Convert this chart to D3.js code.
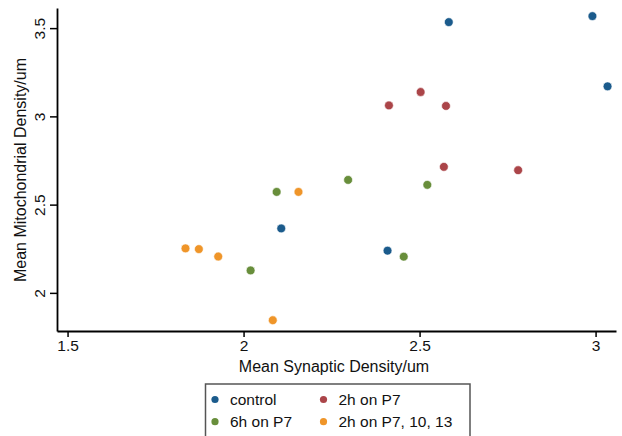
<!DOCTYPE html>
<html>
<head>
<meta charset="utf-8">
<script src="https://cdn.jsdelivr.net/npm/d3@7/dist/d3.min.js"></script>
<style>
  body { margin: 0; background: #fff; }
  svg { display: block; font-family: "Liberation Sans", Arial, Helvetica, sans-serif; }
</style>
</head>
<body>
<svg id="chart" width="622" height="436"></svg>
<script>
const groups = ["control", "2h on P7", "6h on P7", "2h on P7, 10, 13"];
const colors = ["#1b5b8c", "#ab4549", "#688e3b", "#ef9529"];

const controlX = [2.583, 2.991, 3.034, 2.107, 2.409];
const controlY = [3.534, 3.568, 3.170, 2.365, 2.239];
const h2X = [2.503, 2.413, 2.575, 2.569, 2.780];
const h2Y = [3.138, 3.062, 3.059, 2.714, 2.695];
const h6X = [2.094, 2.297, 2.522, 2.020, 2.455];
const h6Y = [2.572, 2.640, 2.612, 2.127, 2.205];
const multiX = [2.156, 1.835, 1.873, 1.928, 2.083];
const multiY = [2.572, 2.252, 2.248, 2.206, 1.845];

const xTicks = [1.5, 2, 2.5, 3];
const yTicks = [2, 2.5, 3, 3.5];
const xTitle = "Mean Synaptic Density/um";
const yTitle = "Mean Mitochondrial Density/um";

const seriesX = [controlX, h2X, h6X, multiX];
const seriesY = [controlY, h2Y, h6Y, multiY];
const points = [];
seriesX.forEach((xs, g) => xs.forEach((x, i) => points.push({g, x, y: seriesY[g][i]})));

const svg = d3.select("#chart");
const x = d3.scaleLinear().domain([1.47, 3.058]).range([57, 616]);
const y = d3.scaleLinear().domain([1.784, 3.614]).range([331, 8]);

// X axis
const gx = svg.append("g").attr("transform", "translate(0,331)")
  .call(d3.axisBottom(x).tickValues(xTicks).tickFormat(d3.format("")).tickSize(6).tickSizeOuter(0).tickPadding(3));
gx.select(".domain").attr("stroke", "#000").attr("stroke-width", 1.8);
gx.selectAll(".tick line").attr("stroke", "#000").attr("stroke-width", 1.5);
gx.selectAll(".tick text").attr("fill", "#111").style("font-size", "15.5px");

// Y axis
const gy = svg.append("g").attr("transform", "translate(57,0)")
  .call(d3.axisLeft(y).tickValues(yTicks).tickFormat(d3.format("")).tickSize(7).tickSizeOuter(0));
gy.select(".domain").attr("stroke", "#000").attr("stroke-width", 1.8);
gy.selectAll(".tick line").attr("stroke", "#000").attr("stroke-width", 1.5);
gy.selectAll(".tick text")
  .attr("fill", "#111").style("font-size", "15.5px")
  .attr("x", null).attr("dy", null)
  .attr("transform", "rotate(-90)")
  .attr("text-anchor", "middle")
  .attr("y", -12);

// Titles
svg.append("text").attr("x", 334).attr("y", 372).attr("text-anchor", "middle")
  .attr("fill", "#111").style("font-size", "16px").text(xTitle);
svg.append("text").attr("transform", "translate(26,170) rotate(-90)").attr("text-anchor", "middle")
  .attr("fill", "#111").style("font-size", "16px").text(yTitle);

// Points
svg.append("g").selectAll("circle").data(points).join("circle")
  .attr("cx", d => x(d.x)).attr("cy", d => y(d.y)).attr("r", 4.4)
  .attr("fill", d => colors[d.g]).attr("stroke", "#fff").attr("stroke-width", 0.6);

// Legend
const lg = svg.append("g");
lg.append("rect").attr("x", 205.5).attr("y", 384).attr("width", 264.5).attr("height", 60)
  .attr("fill", "#fff").attr("stroke", "#555").attr("stroke-width", 1.5);
const legPos = [[215, 399.5], [323.5, 399.5], [215, 421.7], [323.5, 421.7]];
groups.forEach((name, i) => {
  const [lx, ly] = legPos[i];
  lg.append("circle").attr("cx", lx).attr("cy", ly).attr("r", 3.6).attr("fill", colors[i]);
  lg.append("text").attr("x", lx + 15).attr("y", ly + 5.5).attr("fill", "#111")
    .style("font-size", "15.5px").text(name);
});
</script>
</body>
</html>
